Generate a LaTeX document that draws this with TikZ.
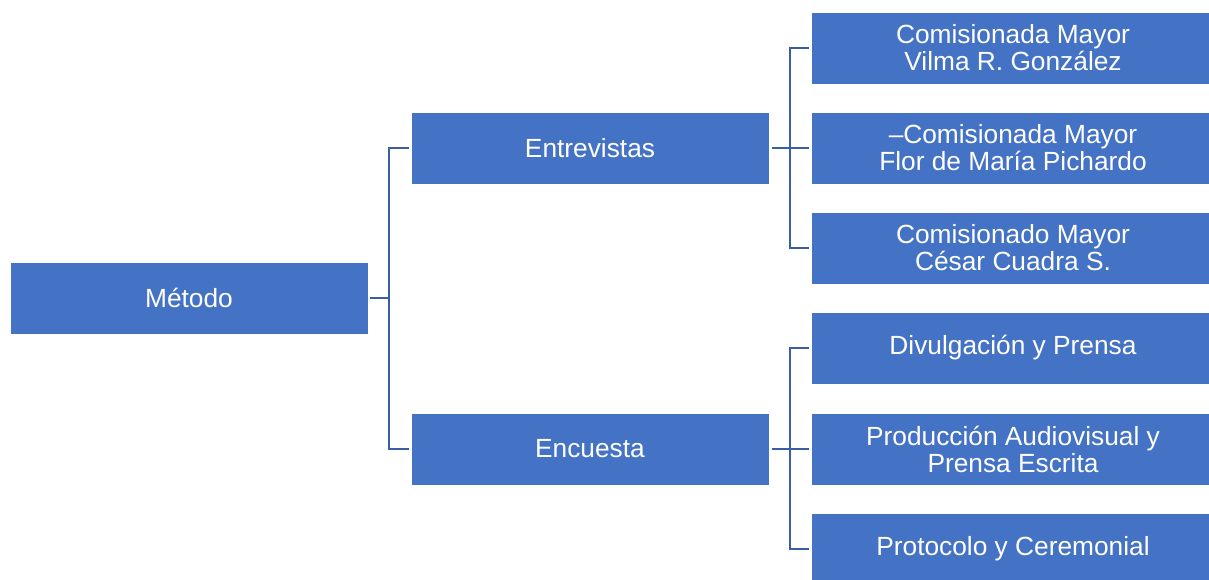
\documentclass[tikz,border=0pt]{standalone}
\usepackage{fontspec}
\setmainfont{Liberation Sans}
\definecolor{boxblue}{HTML}{4472C4}
\definecolor{connblue}{HTML}{3A5EA6}
\begin{document}
\begin{tikzpicture}[x=1pt,y=-1pt,
  box/.style={rectangle,fill=boxblue,draw=white,line width=0.6pt,text=white,
    align=center,inner sep=0pt,minimum height=72pt,
    font=\fontsize{26.3}{27}\selectfont},
  lbox/.style={box,minimum width=358pt},
  rbox/.style={box,minimum width=404pt},
  conn/.style={draw=connblue,line width=2.3pt}]
\clip (0,0) rectangle (1209,580);
\fill[white] (0,0) rectangle (1209,580);
\node[lbox] (metodo) at (189,298) {Método};
\node[lbox] (entre) at (590,148) {Entrevistas};
\node[lbox] (encu) at (590,449) {Encuesta};
\node[rbox] (r1) at (1013,48) {Comisionada Mayor\\Vilma R. González};
\node[rbox] (r2) at (1013,148) {–Comisionada Mayor\\Flor de María Pichardo};
\node[rbox] (r3) at (1013,248) {Comisionado Mayor\\César Cuadra S.};
\node[rbox] (r4) at (1013,348) {\raisebox{-2pt}{Divulgación y Prensa}};
\node[rbox] (r5) at (1013,449) {Producción Audiovisual y\\Prensa Escrita};
\node[rbox] (r6) at (1013,549) {Protocolo y Ceremonial};
\coordinate (mb) at ([xshift=21pt]metodo.east);
\coordinate (eb) at ([xshift=21pt]entre.east);
\coordinate (cb) at ([xshift=21pt]encu.east);
\draw[conn] ([xshift=2pt]metodo.east) -- (mb);
\draw[conn] ([xshift=-2pt]entre.west) -| (mb) |- ([xshift=-2pt]encu.west);
\draw[conn] ([xshift=3pt]entre.east) -- ([xshift=-2pt]r2.west);
\draw[conn] ([xshift=-2pt]r1.west) -| (eb) |- ([xshift=-2pt]r3.west);
\draw[conn] ([xshift=3pt]encu.east) -- ([xshift=-2pt]r5.west);
\draw[conn] ([xshift=-2pt]r4.west) -| (cb) |- ([xshift=-2pt]r6.west);
\end{tikzpicture}
\end{document}
